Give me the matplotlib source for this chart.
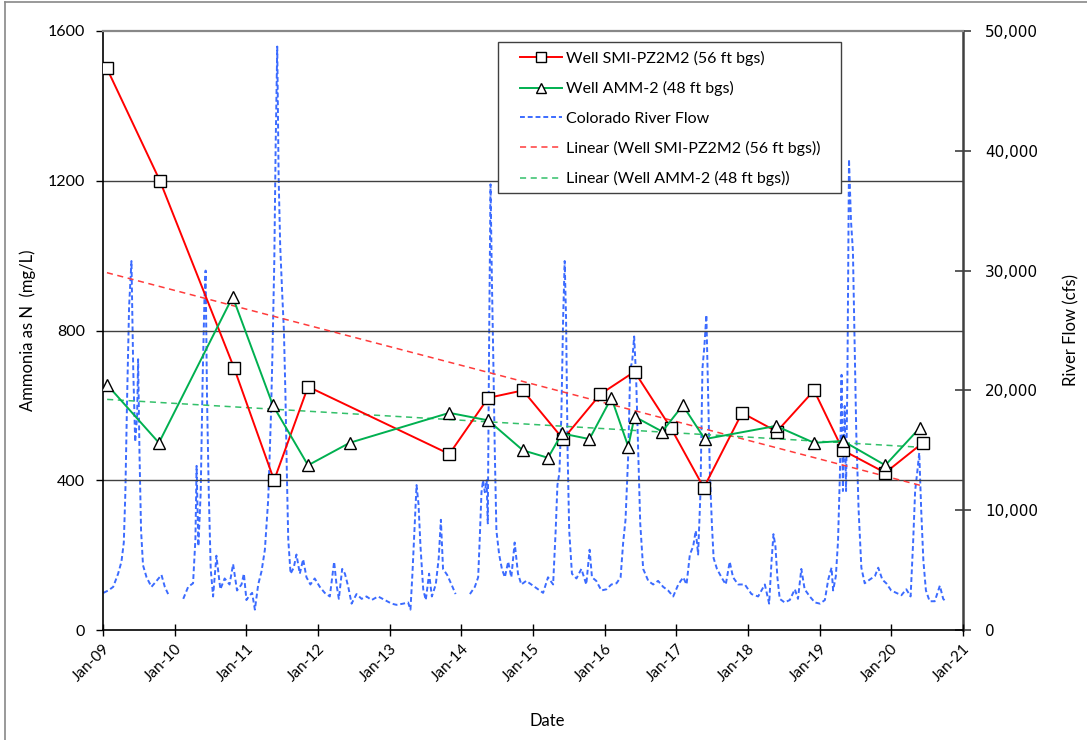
import numpy as np
import matplotlib
matplotlib.use("Agg")
import matplotlib.pyplot as plt
import matplotlib.dates as mdates
from matplotlib.lines import Line2D
from matplotlib.patches import Rectangle
from matplotlib.ticker import FuncFormatter, MultipleLocator
import datetime as dt

plt.rcParams['font.family'] = ['Lato', 'DejaVu Sans']

# ---- Ammonia sampling results (mg/L as N) ----
smi_dates = ["2009-01-21", "2009-10-18", "2010-10-31", "2011-05-23", "2011-11-12",
             "2013-11-01", "2014-05-18", "2014-11-11", "2015-06-04", "2015-12-11",
             "2016-06-02", "2016-12-04", "2017-05-21", "2017-12-02", "2018-05-28",
             "2018-12-04", "2019-04-30", "2019-12-02", "2020-06-10"]
smi_nh3 = [1500, 1200, 700, 400, 650,
           470, 620, 640, 510, 630,
           690, 540, 380, 580, 530,
           640, 480, 420, 500]

amm_dates = ["2009-01-22", "2009-10-13", "2010-10-24", "2011-05-17", "2011-11-12",
             "2012-06-11", "2013-11-01", "2014-05-18", "2014-11-11", "2015-03-19",
             "2015-05-29", "2015-10-16", "2016-02-05", "2016-05-01", "2016-06-02",
             "2016-10-21", "2017-02-03", "2017-05-26", "2018-05-24", "2018-12-04",
             "2019-04-30", "2019-12-02", "2020-05-26"]
amm_nh3 = [655, 500, 890, 600, 440,
           500, 580, 560, 480, 460,
           525, 510, 620, 490, 570,
           530, 600, 510, 545, 500,
           505, 440, 540]

# ---- Colorado River discharge (cfs); NaN marks gaps in the record ----
flow_dates = [
    "2009-01-03", "2009-01-28", "2009-02-22", "2009-03-19", "2009-04-05", "2009-04-17",
    "2009-04-25", "2009-05-04", "2009-05-14", "2009-05-26", "2009-06-04", "2009-06-14",
    "2009-06-24", "2009-06-29", "2009-07-06", "2009-07-14", "2009-07-24", "2009-08-11",
    "2009-09-05", "2009-10-01", "2009-10-26", "2009-11-12", "2009-11-29", "2010-01-05",
    "2010-02-14", "2010-03-11", "2010-04-05", "2010-04-17", "2010-04-23", "2010-05-02",
    "2010-05-14", "2010-05-24", "2010-06-02", "2010-06-08", "2010-06-15", "2010-06-24",
    "2010-07-04", "2010-07-16", "2010-08-02", "2010-08-22", "2010-09-13", "2010-10-08",
    "2010-10-26", "2010-11-15", "2010-12-08", "2010-12-20", "2011-01-02", "2011-01-14",
    "2011-01-31", "2011-02-14", "2011-03-03", "2011-03-20", "2011-04-06", "2011-04-23",
    "2011-05-07", "2011-05-15", "2011-05-24", "2011-05-31", "2011-06-08", "2011-06-15",
    "2011-06-23", "2011-07-03", "2011-07-12", "2011-07-20", "2011-07-27", "2011-08-03",
    "2011-08-15", "2011-08-31", "2011-09-14", "2011-10-01", "2011-10-18", "2011-11-04",
    "2011-11-24", "2011-12-16", "2012-01-11", "2012-02-05", "2012-03-02", "2012-03-24",
    "2012-04-05", "2012-04-17", "2012-05-04", "2012-05-18", "2012-06-04", "2012-06-21",
    "2012-07-16", "2012-08-11", "2012-09-05", "2012-10-01", "2012-11-03", "2012-12-08",
    "2013-01-11", "2013-02-05", "2013-03-11", "2013-04-05", "2013-04-17", "2013-04-27",
    "2013-05-07", "2013-05-18", "2013-05-28", "2013-06-07", "2013-06-21", "2013-07-04",
    "2013-07-21", "2013-08-04", "2013-08-24", "2013-09-08", "2013-09-19", "2013-09-30",
    "2013-10-21", "2013-11-12", "2013-12-03", "2014-01-10",
    "2014-02-14", "2014-03-11", "2014-03-28", "2014-04-05", "2014-04-14", "2014-04-22",
    "2014-05-01", "2014-05-10", "2014-05-16", "2014-05-23", "2014-05-30", "2014-06-06",
    "2014-06-13", "2014-06-21", "2014-06-29", "2014-07-13", "2014-07-27", "2014-08-11",
    "2014-08-28", "2014-09-13", "2014-09-30", "2014-10-17", "2014-11-03", "2014-11-28",
    "2014-12-24", "2015-01-27", "2015-02-22", "2015-03-19", "2015-04-14", "2015-04-27",
    "2015-05-06", "2015-05-16", "2015-05-26", "2015-06-04", "2015-06-12", "2015-06-19",
    "2015-06-27", "2015-07-05", "2015-07-19", "2015-08-11", "2015-09-05", "2015-09-30",
    "2015-10-17", "2015-10-29", "2015-11-20", "2015-12-16", "2016-01-11", "2016-02-05",
    "2016-03-02", "2016-03-23", "2016-04-05", "2016-04-17", "2016-05-01", "2016-05-11",
    "2016-05-21", "2016-05-31", "2016-06-10", "2016-06-21", "2016-07-01", "2016-07-16",
    "2016-08-11", "2016-09-05", "2016-09-30", "2016-10-26", "2016-11-20", "2016-12-16",
    "2017-01-11", "2017-02-05", "2017-02-22", "2017-03-11", "2017-03-28", "2017-04-10",
    "2017-04-22", "2017-05-04", "2017-05-14", "2017-05-24", "2017-06-03", "2017-06-12",
    "2017-06-21", "2017-07-01", "2017-07-10", "2017-07-27", "2017-08-19", "2017-09-10",
    "2017-09-30", "2017-10-17", "2017-11-12", "2017-12-16", "2018-01-19", "2018-02-22",
    "2018-03-28", "2018-04-19", "2018-05-01", "2018-05-11", "2018-05-21", "2018-05-31",
    "2018-06-12", "2018-07-07", "2018-08-02", "2018-08-28", "2018-09-13", "2018-09-30",
    "2018-10-17", "2018-11-12", "2018-12-08", "2019-01-03", "2019-01-28", "2019-02-14",
    "2019-03-03", "2019-03-11", "2019-03-25", "2019-04-05", "2019-04-15", "2019-04-23",
    "2019-04-30", "2019-05-09", "2019-05-16", "2019-05-23", "2019-05-31", "2019-06-10",
    "2019-06-20", "2019-06-28", "2019-07-07", "2019-07-19", "2019-08-02", "2019-08-19",
    "2019-09-13", "2019-10-10", "2019-10-27", "2019-11-17", "2019-12-07", "2020-01-01",
    "2020-01-27", "2020-02-22", "2020-03-18", "2020-04-09", "2020-04-22", "2020-05-02",
    "2020-05-13", "2020-05-23", "2020-06-02", "2020-06-13", "2020-06-26", "2020-07-15",
    "2020-08-10", "2020-09-05", "2020-09-22", "2020-10-04",
]
nan = np.nan
flow_cfs = [
    3100, 3300, 3600, 4700, 5700, 7300,
    11500, 19500, 27000, 30800, 21800, 15700,
    17900, 22600, 14700, 8300, 5400, 4400,
    3600, 4100, 4600, 3600, 3000, nan,
    2600, 3600, 3900, 7600, 13700, 7000,
    11500, 21100, 27600, 30000, 19500, 11500,
    5100, 2800, 6200, 3400, 4300, 3800,
    5500, 3300, 3800, 4700, 2500, 2800,
    3100, 1700, 3800, 4900, 6700, 10900,
    17900, 23400, 30800, 40500, 48700, 37900,
    32100, 28200, 25000, 19500, 13100, 7600,
    4700, 5200, 6300, 4700, 5900, 4400,
    3800, 4300, 3600, 3100, 2800, 5700,
    3800, 2600, 5100, 4700, 3600, 2200,
    3000, 2600, 2800, 2500, 2800, 2500,
    2200, 2100, 2200, 2300, 1700, 4700,
    8300, 12100, 10500, 7000, 3400, 2500,
    4700, 2800, 3800, 6000, 9200, 5100,
    4600, 3800, 3000, nan,
    3000, 3600, 4400, 7600, 11500, 12500,
    11500, 12500, 8900, 24400, 37200, 29200,
    22800, 14700, 8300, 6300, 5100, 4400,
    5700, 4400, 7300, 4700, 3800, 4100,
    3800, 3400, 3100, 4400, 3800, 8300,
    12100, 13100, 17900, 26000, 30800, 26000,
    14700, 8300, 4700, 4300, 5100, 3800,
    6700, 4400, 4100, 3300, 3400, 3800,
    3900, 4400, 7300, 9200, 14700, 21800,
    22400, 24500, 21100, 14700, 8900, 5100,
    4100, 3800, 4100, 3600, 3300, 2800,
    3800, 4400, 3800, 6300, 7000, 8300,
    6300, 11500, 21800, 23700, 26300, 19500,
    13100, 8900, 6000, 5100, 4400, 3800,
    5700, 4400, 3800, 3800, 3000, 2800,
    3800, 2200, 5700, 8000, 7000, 4400,
    2600, 2300, 2500, 3400, 2600, 5100,
    3400, 2800, 2300, 2200, 2500, 4200,
    5200, 3300, 4500, 7400, 13200, 21300,
    11600, 18700, 11600, 21300, 39300, 34200,
    31600, 24500, 16500, 10000, 5200, 3900,
    4200, 4500, 5200, 4200, 3900, 3300,
    3100, 2900, 3400, 2800, 7400, 11600,
    13200, 14800, 10000, 5800, 3300, 2400,
    2400, 3700, 2600, 2400,
]

year_ticks = list(range(2009, 2022))
tick_labels = ["Jan-%02d" % (y % 100) for y in year_ticks]


def to_dates(strings):
    return [dt.datetime.strptime(s, "%Y-%m-%d") for s in strings]


smi_x = to_dates(smi_dates)
amm_x = to_dates(amm_dates)
flow_x = to_dates(flow_dates)


def linear_trend(xs, ys):
    t = mdates.date2num(xs)
    slope, intercept = np.polyfit(t, ys, 1)
    ends = np.array([t[0], t[-1]])
    return mdates.num2date(ends), slope * ends + intercept


W, H = 1087, 740
fig = plt.figure(figsize=(W / 100, H / 100), dpi=100)
ax = fig.add_axes([103 / W, 1 - 630 / H, 860 / W, 599 / H])
ax2 = ax.twinx()
ax.set_zorder(ax2.get_zorder() + 1)
ax.patch.set_visible(False)

# River discharge on the secondary axis
flow_line, = ax2.plot(flow_x, flow_cfs, color="#3B6BFF", lw=1.4,
                      linestyle=(0, (2.5, 1.5)), label="Colorado River Flow")

# Horizontal gridlines
for yv in (400, 800, 1200):
    ax.axhline(yv, color="#404040", lw=1.0, zorder=0.5)

red_line, = ax.plot(smi_x, smi_nh3, color="#FF0000", lw=1.4, marker="s", ms=8.5,
                    mfc="white", mec="black", mew=1.0, zorder=4,
                    label="Well SMI-PZ2M2 (56 ft bgs)")
grn_line, = ax.plot(amm_x, amm_nh3, color="#00B050", lw=1.4, marker="^", ms=9,
                    mfc="white", mec="black", mew=1.0, zorder=4,
                    label="Well AMM-2 (48 ft bgs)")

tx, ty = linear_trend(smi_x, smi_nh3)
red_trend, = ax.plot(tx, ty, color="#FF3B3B", lw=1.1, linestyle=(0, (4, 3)), zorder=3,
                     label="Linear (Well SMI-PZ2M2 (56 ft bgs))")
tx, ty = linear_trend(amm_x, amm_nh3)
grn_trend, = ax.plot(tx, ty, color="#33C06A", lw=1.1, linestyle=(0, (4, 3)), zorder=3,
                     label="Linear (Well AMM-2 (48 ft bgs))")

# Axes ranges and ticks
ax.set_xlim(dt.datetime(2009, 1, 1), dt.datetime(2021, 1, 1))
ax.set_ylim(0, 1600)
ax.yaxis.set_major_locator(MultipleLocator(400))
ax2.set_ylim(0, 50000)
ax2.yaxis.set_major_locator(MultipleLocator(10000))
ax2.yaxis.set_major_formatter(FuncFormatter(lambda v, p: "{:,.0f}".format(v)))

xt = [dt.datetime(y, 1, 1) for y in year_ticks]
ax.set_xticks(xt)
ax.set_xticklabels(tick_labels, rotation=45, ha="right", rotation_mode="anchor")

ax.tick_params(axis="x", direction="inout", length=8, width=1, labelsize=11, pad=4)
ax.tick_params(axis="y", direction="out", length=5, width=1, labelsize=11.5, pad=8)
ax2.tick_params(axis="y", direction="inout", length=12, width=1.2, labelsize=11,
                pad=10, color="#404040")
for lab in ax2.get_yticklabels():
    lab.set_fontfamily("DejaVu Sans")

ax.spines["top"].set_color("#888888")
ax.spines["top"].set_linewidth(1.6)
ax.spines["right"].set_visible(False)
ax.spines["left"].set_linewidth(1.2)
ax.spines["bottom"].set_linewidth(1.2)
ax2.spines["top"].set_visible(False)
ax2.spines["left"].set_visible(False)
ax2.spines["bottom"].set_visible(False)
ax2.spines["right"].set_color("#404040")
ax2.spines["right"].set_linewidth(1.8)

ax.set_ylabel("Ammonia as N  (mg/L)", fontsize=12)
ax.yaxis.set_label_coords(-0.078, 0.5)
ax.set_xlabel("Date", fontsize=12)
ax.xaxis.set_label_coords(0.516, -0.138)
ax2.set_ylabel("River Flow (cfs)", fontsize=12)
ax2.yaxis.set_label_coords(1.117, 0.5)

# Legend: entries without a frame, boxed by a separate rectangle
fig.add_artist(Rectangle((498 / W, 1 - 193 / H), 343 / W, 151 / H,
                         transform=fig.transFigure, facecolor="white",
                         edgecolor="#404040", lw=1.0, zorder=9))
handles = [red_line, grn_line, flow_line, red_trend, grn_trend]
leg = fig.legend(handles=handles, labels=[h.get_label() for h in handles],
                 loc="upper left", bbox_to_anchor=(520 / W, 1 - 51 / H),
                 fontsize=11.5, frameon=False,
                 handlelength=2.6, handletextpad=0.3, labelspacing=0.95,
                 borderpad=0, borderaxespad=0, numpoints=1)
leg.set_zorder(10)
for h in leg.legend_handles[:2]:
    h.set_markersize(7)

# Outer chart frame
fig.add_artist(Line2D([5 / W, 5 / W], [0, 1 - 2 / H], transform=fig.transFigure,
                      color="#888888", lw=1.2))
fig.add_artist(Line2D([5 / W, 1], [1 - 2 / H, 1 - 2 / H], transform=fig.transFigure,
                      color="#888888", lw=1.2))

fig.savefig("out.png", dpi=100)
